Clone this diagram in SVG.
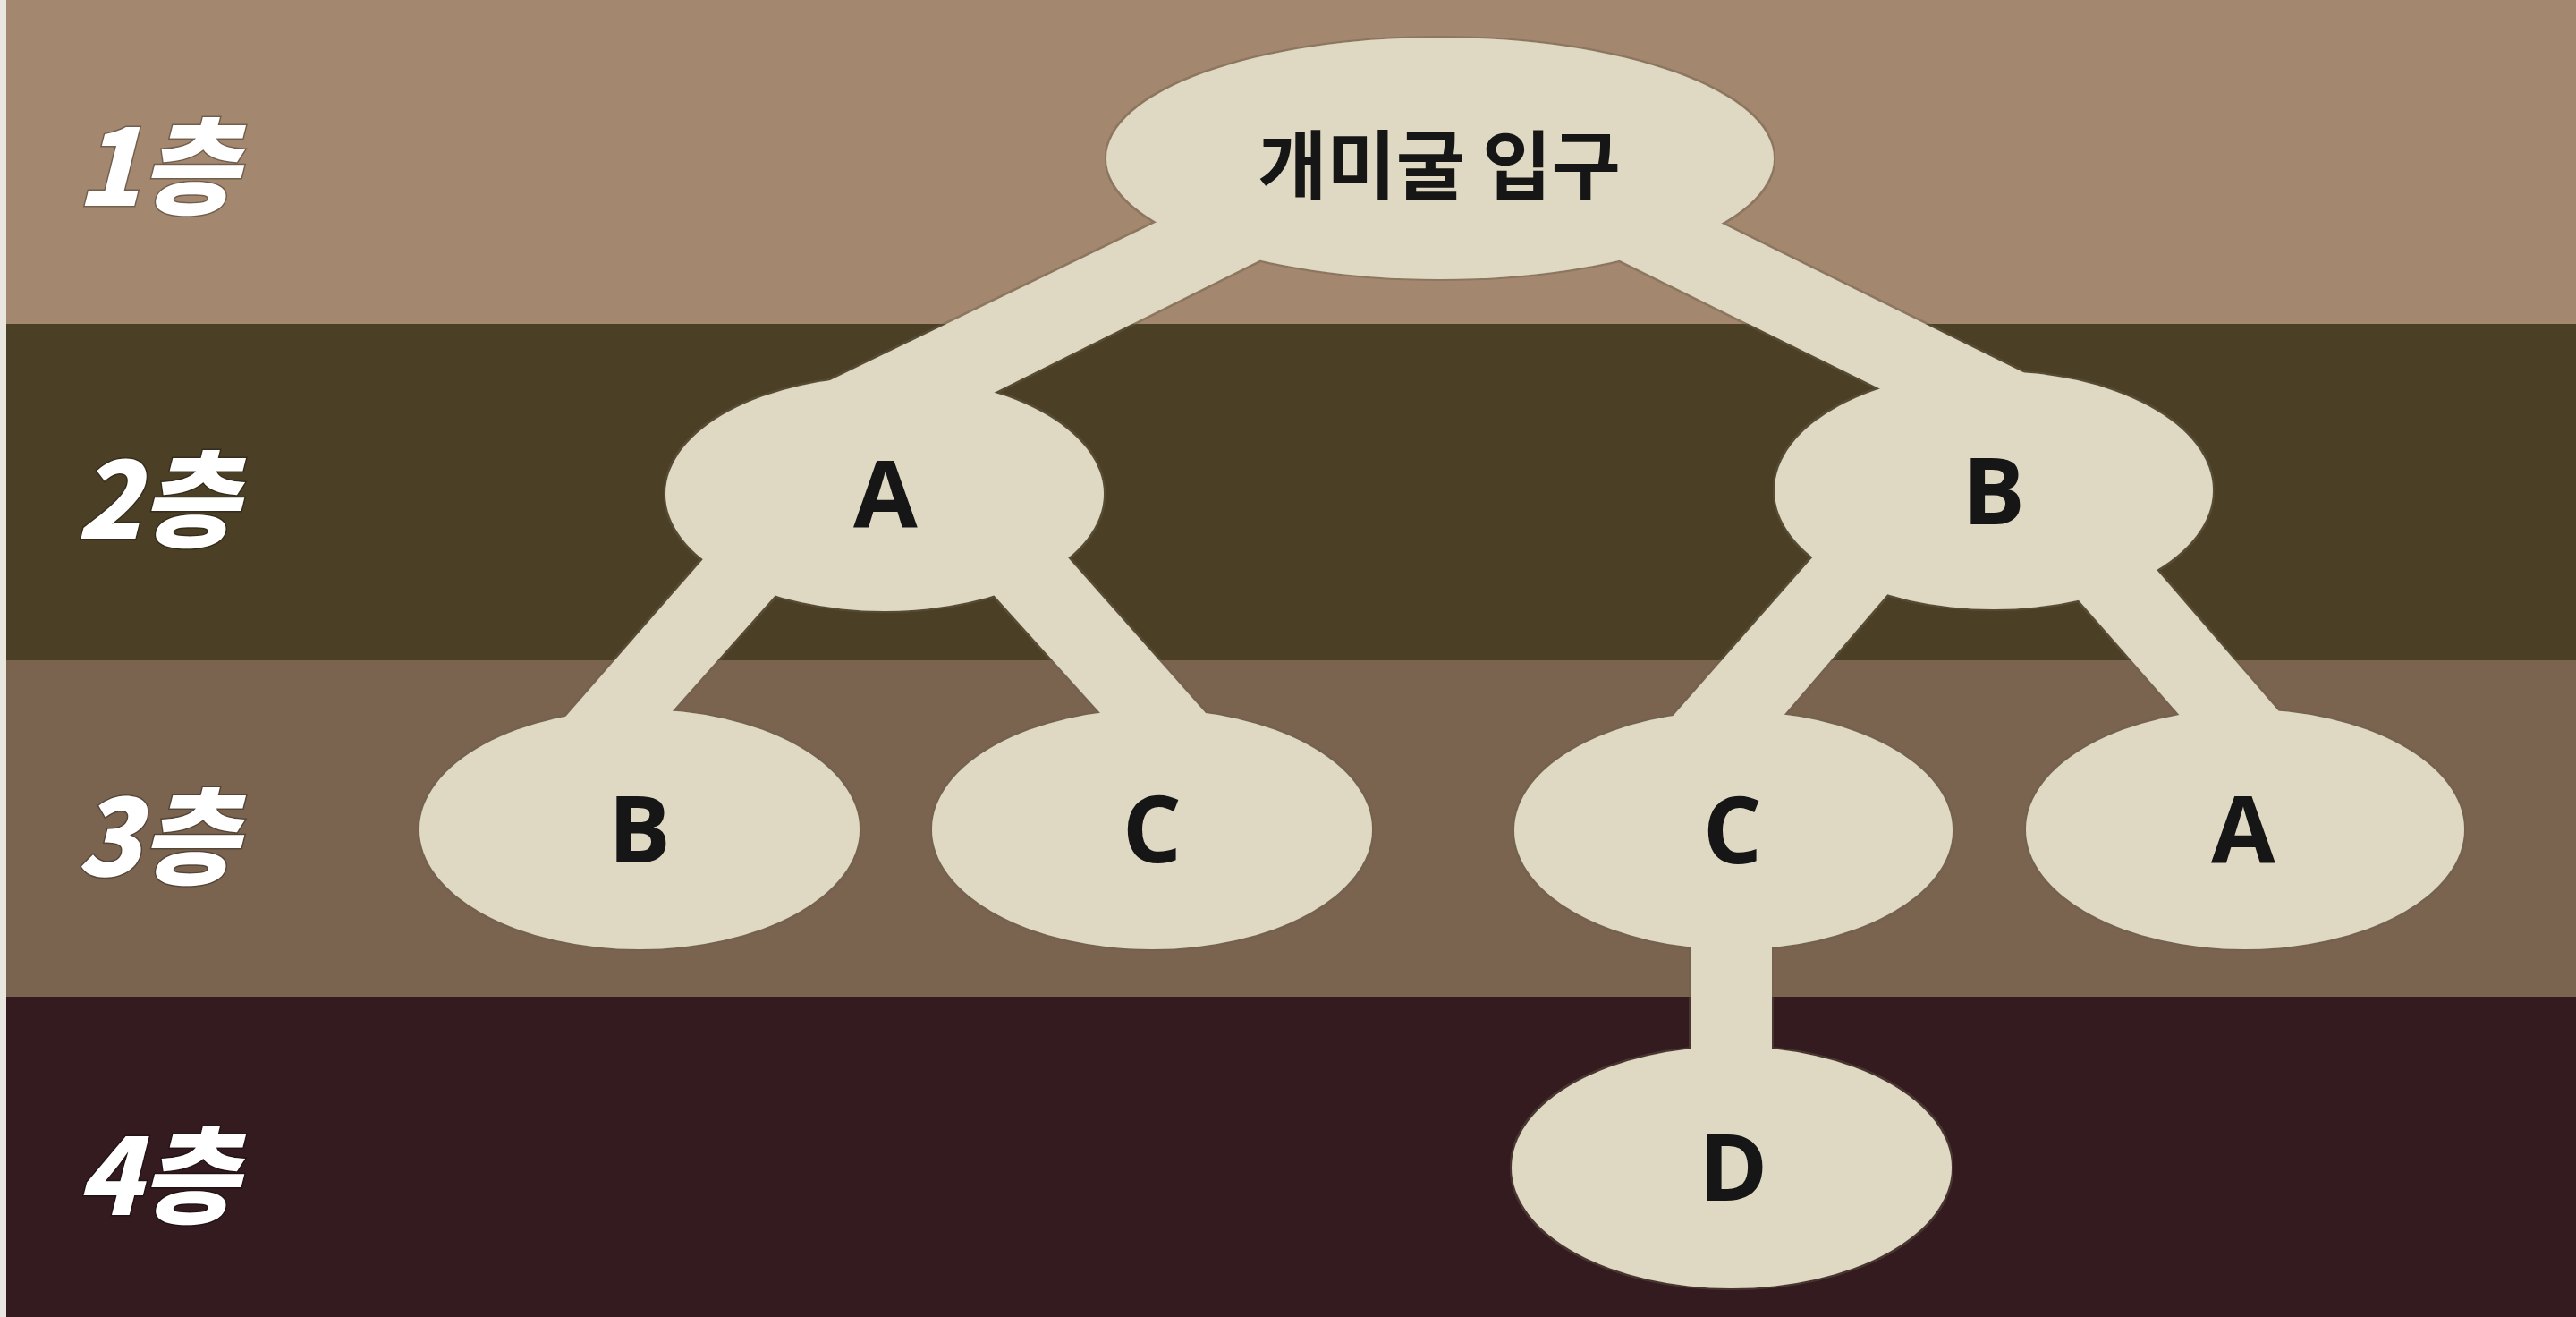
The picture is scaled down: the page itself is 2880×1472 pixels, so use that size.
<svg xmlns="http://www.w3.org/2000/svg" width="2880" height="1472" viewBox="0 0 2880 1472">
<defs>
<style>
.band1{fill:#a3876f}.band2{fill:#4b3f26}.band3{fill:#7a6450}.band4{fill:#331b1f}
.conn{fill:#dfd9c3}
.node ellipse{fill:#dfd9c3}
.lbl{font-family:"Noto Sans CJK KR","Noto Sans",sans-serif;font-weight:900;font-style:italic;font-size:118px;fill:#ffffff;stroke:#000;stroke-opacity:0.3;stroke-width:3;paint-order:stroke;text-anchor:end}
.nt{font-family:"Open Sans","Noto Sans",sans-serif;font-weight:700;font-size:104px;fill:#141414;text-anchor:middle}
.rt{font-family:"Noto Sans CJK KR",sans-serif;font-weight:700;font-size:84px;fill:#141414;text-anchor:middle}
</style>
<filter id="rim" x="-5%" y="-5%" width="110%" height="110%">
<feMorphology in="SourceAlpha" operator="dilate" radius="2" result="d"/>
<feFlood flood-color="#6b5e48" flood-opacity="0.4"/>
<feComposite in2="d" operator="in" result="o"/>
<feMerge><feMergeNode in="o"/><feMergeNode in="SourceGraphic"/></feMerge>
</filter>
</defs>
<g id="background">
<rect class="band1" x="0" y="0" width="2880" height="362"/>
<rect class="band2" x="0" y="362" width="2880" height="376"/>
<rect class="band3" x="0" y="738" width="2880" height="376"/>
<rect class="band4" x="0" y="1114" width="2880" height="358"/>
<rect x="0" y="0" width="7" height="1472" fill="#e9e6e0"/>
</g>
<g id="levels">
<text class="lbl" x="266" y="230">1층</text>
<text class="lbl" x="266" y="602">2층</text>
<text class="lbl" x="266" y="979">3층</text>
<text class="lbl" x="266" y="1358">4층</text>
</g>
<g id="tree" filter="url(#rim)">
<g id="connectors">
<polygon class="conn" points="1304,243 922,428 1097,446 1432,279"/>
<polygon class="conn" points="1911,243 2286,428 2117,442 1791,281"/>
<polygon class="conn" points="799,610 621,814 740,808 876,655"/>
<polygon class="conn" points="1185,613 1363,814 1240,808 1102,655"/>
<polygon class="conn" points="2036,612 1860,812 1986,809 2119,654"/>
<polygon class="conn" points="2400,624 2559,808 2446,810 2311,656"/>
<rect class="conn" x="1890" y="1030" width="91" height="170"/>
</g>
<g id="node-root" class="node"><ellipse cx="1610" cy="177" rx="373" ry="135"/><text class="rt" x="1609" y="216">개미굴 입구</text></g>
<g id="node-2A" class="node"><ellipse cx="989" cy="552" rx="245" ry="131"/><text class="nt" x="990" y="590">A</text></g>
<g id="node-2B" class="node"><ellipse cx="2229" cy="548" rx="245" ry="133"/><text class="nt" x="2229" y="586">B</text></g>
<g id="node-3B" class="node"><ellipse cx="715" cy="927" rx="246" ry="134"/><text class="nt" x="715" y="964">B</text></g>
<g id="node-3C" class="node"><ellipse cx="1288" cy="927" rx="246" ry="134"/><text class="nt" x="1288" y="964">C</text></g>
<g id="node-3C2" class="node"><ellipse cx="1938" cy="928" rx="245" ry="133"/><text class="nt" x="1937" y="965">C</text></g>
<g id="node-3A" class="node"><ellipse cx="2510" cy="927" rx="245" ry="134"/><text class="nt" x="2508" y="965">A</text></g>
<g id="node-4D" class="node"><ellipse cx="1936" cy="1305" rx="246" ry="135"/><text class="nt" x="1938" y="1342">D</text></g>
</g>
</svg>
